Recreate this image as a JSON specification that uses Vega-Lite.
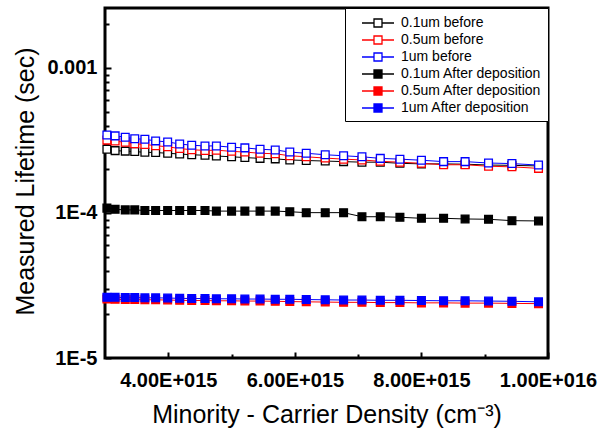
{
  "$schema": "https://vega.github.io/schema/vega-lite/v6.json",
  "width": 443,
  "height": 350,
  "autosize": {"type": "none"},
  "padding": {"left": 105, "top": 8, "right": 62, "bottom": 72},
  "background": "white",
  "config": {
    "view": {"stroke": "black", "strokeWidth": 3},
    "font": "Liberation Sans",
    "axis": {
      "domain": false, "grid": false, "tickColor": "black", "tickWidth": 2,
      "labelColor": "black", "titleColor": "black",
      "labelFont": "Liberation Sans", "titleFont": "Liberation Sans",
      "labelFontWeight": "bold", "labelFontSize": 20,
      "titleFontWeight": "normal", "titleFontSize": 24
    }
  },
  "data": {"values": [
    {"s":"0.1um before","x":3.03e15,"y":2.75e-4},{"s":"0.1um before","x":3.16e15,"y":2.69e-4},{"s":"0.1um before","x":3.32e15,"y":2.67e-4},{"s":"0.1um before","x":3.47e15,"y":2.65e-4},{"s":"0.1um before","x":3.63e15,"y":2.62e-4},{"s":"0.1um before","x":3.80e15,"y":2.61e-4},{"s":"0.1um before","x":3.99e15,"y":2.58e-4},{"s":"0.1um before","x":4.18e15,"y":2.55e-4},{"s":"0.1um before","x":4.37e15,"y":2.52e-4},{"s":"0.1um before","x":4.58e15,"y":2.50e-4},{"s":"0.1um before","x":4.76e15,"y":2.47e-4},{"s":"0.1um before","x":5.00e15,"y":2.44e-4},{"s":"0.1um before","x":5.21e15,"y":2.41e-4},{"s":"0.1um before","x":5.45e15,"y":2.38e-4},{"s":"0.1um before","x":5.69e15,"y":2.36e-4},{"s":"0.1um before","x":5.92e15,"y":2.32e-4},{"s":"0.1um before","x":6.18e15,"y":2.30e-4},{"s":"0.1um before","x":6.48e15,"y":2.28e-4},{"s":"0.1um before","x":6.77e15,"y":2.26e-4},{"s":"0.1um before","x":7.06e15,"y":2.24e-4},{"s":"0.1um before","x":7.35e15,"y":2.24e-4},{"s":"0.1um before","x":7.66e15,"y":2.20e-4},{"s":"0.1um before","x":8.00e15,"y":2.18e-4},{"s":"0.1um before","x":8.35e15,"y":2.18e-4},{"s":"0.1um before","x":8.69e15,"y":2.17e-4},{"s":"0.1um before","x":9.06e15,"y":2.14e-4},{"s":"0.1um before","x":9.43e15,"y":2.13e-4},{"s":"0.1um before","x":9.85e15,"y":2.11e-4},
    {"s":"0.5um before","x":3.03e15,"y":3.18e-4},{"s":"0.5um before","x":3.16e15,"y":3.13e-4},{"s":"0.5um before","x":3.32e15,"y":3.07e-4},{"s":"0.5um before","x":3.47e15,"y":3.00e-4},{"s":"0.5um before","x":3.63e15,"y":2.97e-4},{"s":"0.5um before","x":3.80e15,"y":2.91e-4},{"s":"0.5um before","x":3.99e15,"y":2.86e-4},{"s":"0.5um before","x":4.18e15,"y":2.78e-4},{"s":"0.5um before","x":4.37e15,"y":2.73e-4},{"s":"0.5um before","x":4.58e15,"y":2.70e-4},{"s":"0.5um before","x":4.76e15,"y":2.71e-4},{"s":"0.5um before","x":5.00e15,"y":2.66e-4},{"s":"0.5um before","x":5.21e15,"y":2.63e-4},{"s":"0.5um before","x":5.45e15,"y":2.58e-4},{"s":"0.5um before","x":5.69e15,"y":2.56e-4},{"s":"0.5um before","x":5.92e15,"y":2.48e-4},{"s":"0.5um before","x":6.18e15,"y":2.44e-4},{"s":"0.5um before","x":6.48e15,"y":2.39e-4},{"s":"0.5um before","x":6.77e15,"y":2.35e-4},{"s":"0.5um before","x":7.06e15,"y":2.32e-4},{"s":"0.5um before","x":7.35e15,"y":2.27e-4},{"s":"0.5um before","x":7.66e15,"y":2.24e-4},{"s":"0.5um before","x":8.00e15,"y":2.20e-4},{"s":"0.5um before","x":8.35e15,"y":2.15e-4},{"s":"0.5um before","x":8.69e15,"y":2.15e-4},{"s":"0.5um before","x":9.06e15,"y":2.10e-4},{"s":"0.5um before","x":9.43e15,"y":2.08e-4},{"s":"0.5um before","x":9.85e15,"y":2.03e-4},
    {"s":"1um before","x":3.03e15,"y":3.45e-4},{"s":"1um before","x":3.16e15,"y":3.40e-4},{"s":"1um before","x":3.32e15,"y":3.33e-4},{"s":"1um before","x":3.47e15,"y":3.25e-4},{"s":"1um before","x":3.63e15,"y":3.22e-4},{"s":"1um before","x":3.80e15,"y":3.14e-4},{"s":"1um before","x":3.99e15,"y":3.09e-4},{"s":"1um before","x":4.18e15,"y":2.99e-4},{"s":"1um before","x":4.37e15,"y":2.93e-4},{"s":"1um before","x":4.58e15,"y":2.90e-4},{"s":"1um before","x":4.76e15,"y":2.90e-4},{"s":"1um before","x":5.00e15,"y":2.84e-4},{"s":"1um before","x":5.21e15,"y":2.81e-4},{"s":"1um before","x":5.45e15,"y":2.75e-4},{"s":"1um before","x":5.69e15,"y":2.72e-4},{"s":"1um before","x":5.92e15,"y":2.63e-4},{"s":"1um before","x":6.18e15,"y":2.58e-4},{"s":"1um before","x":6.48e15,"y":2.52e-4},{"s":"1um before","x":6.77e15,"y":2.48e-4},{"s":"1um before","x":7.06e15,"y":2.44e-4},{"s":"1um before","x":7.35e15,"y":2.38e-4},{"s":"1um before","x":7.66e15,"y":2.35e-4},{"s":"1um before","x":8.00e15,"y":2.31e-4},{"s":"1um before","x":8.35e15,"y":2.26e-4},{"s":"1um before","x":8.69e15,"y":2.26e-4},{"s":"1um before","x":9.06e15,"y":2.21e-4},{"s":"1um before","x":9.43e15,"y":2.19e-4},{"s":"1um before","x":9.85e15,"y":2.14e-4},
    {"s":"0.1um After deposition","x":3.03e15,"y":1.08e-4},{"s":"0.1um After deposition","x":3.16e15,"y":1.06e-4},{"s":"0.1um After deposition","x":3.32e15,"y":1.05e-4},{"s":"0.1um After deposition","x":3.47e15,"y":1.05e-4},{"s":"0.1um After deposition","x":3.63e15,"y":1.04e-4},{"s":"0.1um After deposition","x":3.80e15,"y":1.04e-4},{"s":"0.1um After deposition","x":3.99e15,"y":1.04e-4},{"s":"0.1um After deposition","x":4.18e15,"y":1.04e-4},{"s":"0.1um After deposition","x":4.37e15,"y":1.04e-4},{"s":"0.1um After deposition","x":4.58e15,"y":1.04e-4},{"s":"0.1um After deposition","x":4.76e15,"y":1.03e-4},{"s":"0.1um After deposition","x":5.00e15,"y":1.03e-4},{"s":"0.1um After deposition","x":5.21e15,"y":1.03e-4},{"s":"0.1um After deposition","x":5.45e15,"y":1.03e-4},{"s":"0.1um After deposition","x":5.69e15,"y":1.03e-4},{"s":"0.1um After deposition","x":5.92e15,"y":1.02e-4},{"s":"0.1um After deposition","x":6.18e15,"y":1.005e-4},{"s":"0.1um After deposition","x":6.48e15,"y":1.005e-4},{"s":"0.1um After deposition","x":6.77e15,"y":1.005e-4},{"s":"0.1um After deposition","x":7.06e15,"y":9.42e-5},{"s":"0.1um After deposition","x":7.35e15,"y":9.42e-5},{"s":"0.1um After deposition","x":7.66e15,"y":9.34e-5},{"s":"0.1um After deposition","x":8.00e15,"y":9.19e-5},{"s":"0.1um After deposition","x":8.35e15,"y":9.19e-5},{"s":"0.1um After deposition","x":8.69e15,"y":9.09e-5},{"s":"0.1um After deposition","x":9.06e15,"y":9.05e-5},{"s":"0.1um After deposition","x":9.43e15,"y":8.85e-5},{"s":"0.1um After deposition","x":9.85e15,"y":8.81e-5},
    {"s":"0.5um After deposition","x":3.03e15,"y":2.55e-5},{"s":"0.5um After deposition","x":3.16e15,"y":2.54e-5},{"s":"0.5um After deposition","x":3.32e15,"y":2.53e-5},{"s":"0.5um After deposition","x":3.47e15,"y":2.53e-5},{"s":"0.5um After deposition","x":3.63e15,"y":2.52e-5},{"s":"0.5um After deposition","x":3.80e15,"y":2.52e-5},{"s":"0.5um After deposition","x":3.99e15,"y":2.51e-5},{"s":"0.5um After deposition","x":4.18e15,"y":2.50e-5},{"s":"0.5um After deposition","x":4.37e15,"y":2.49e-5},{"s":"0.5um After deposition","x":4.58e15,"y":2.49e-5},{"s":"0.5um After deposition","x":4.76e15,"y":2.48e-5},{"s":"0.5um After deposition","x":5.00e15,"y":2.48e-5},{"s":"0.5um After deposition","x":5.21e15,"y":2.47e-5},{"s":"0.5um After deposition","x":5.45e15,"y":2.47e-5},{"s":"0.5um After deposition","x":5.69e15,"y":2.46e-5},{"s":"0.5um After deposition","x":5.92e15,"y":2.45e-5},{"s":"0.5um After deposition","x":6.18e15,"y":2.44e-5},{"s":"0.5um After deposition","x":6.48e15,"y":2.43e-5},{"s":"0.5um After deposition","x":6.77e15,"y":2.42e-5},{"s":"0.5um After deposition","x":7.06e15,"y":2.42e-5},{"s":"0.5um After deposition","x":7.35e15,"y":2.41e-5},{"s":"0.5um After deposition","x":7.66e15,"y":2.41e-5},{"s":"0.5um After deposition","x":8.00e15,"y":2.40e-5},{"s":"0.5um After deposition","x":8.35e15,"y":2.40e-5},{"s":"0.5um After deposition","x":8.69e15,"y":2.39e-5},{"s":"0.5um After deposition","x":9.06e15,"y":2.39e-5},{"s":"0.5um After deposition","x":9.43e15,"y":2.38e-5},{"s":"0.5um After deposition","x":9.85e15,"y":2.37e-5},
    {"s":"1um After deposition","x":3.03e15,"y":2.62e-5},{"s":"1um After deposition","x":3.16e15,"y":2.62e-5},{"s":"1um After deposition","x":3.32e15,"y":2.61e-5},{"s":"1um After deposition","x":3.47e15,"y":2.61e-5},{"s":"1um After deposition","x":3.63e15,"y":2.60e-5},{"s":"1um After deposition","x":3.80e15,"y":2.60e-5},{"s":"1um After deposition","x":3.99e15,"y":2.59e-5},{"s":"1um After deposition","x":4.18e15,"y":2.58e-5},{"s":"1um After deposition","x":4.37e15,"y":2.57e-5},{"s":"1um After deposition","x":4.58e15,"y":2.57e-5},{"s":"1um After deposition","x":4.76e15,"y":2.56e-5},{"s":"1um After deposition","x":5.00e15,"y":2.56e-5},{"s":"1um After deposition","x":5.21e15,"y":2.55e-5},{"s":"1um After deposition","x":5.45e15,"y":2.55e-5},{"s":"1um After deposition","x":5.69e15,"y":2.54e-5},{"s":"1um After deposition","x":5.92e15,"y":2.54e-5},{"s":"1um After deposition","x":6.18e15,"y":2.53e-5},{"s":"1um After deposition","x":6.48e15,"y":2.52e-5},{"s":"1um After deposition","x":6.77e15,"y":2.51e-5},{"s":"1um After deposition","x":7.06e15,"y":2.51e-5},{"s":"1um After deposition","x":7.35e15,"y":2.50e-5},{"s":"1um After deposition","x":7.66e15,"y":2.50e-5},{"s":"1um After deposition","x":8.00e15,"y":2.49e-5},{"s":"1um After deposition","x":8.35e15,"y":2.48e-5},{"s":"1um After deposition","x":8.69e15,"y":2.48e-5},{"s":"1um After deposition","x":9.06e15,"y":2.47e-5},{"s":"1um After deposition","x":9.43e15,"y":2.46e-5},{"s":"1um After deposition","x":9.85e15,"y":2.44e-5}
  ]},
  "encoding": {
    "x": {
      "field": "x", "type": "quantitative",
      "title": "Minority - Carrier Density (cm⁻³)",
      "scale": {"domain": [3e15, 1e16], "nice": false, "zero": false},
      "axis": {
        "values": [4e15, 5e15, 6e15, 7e15, 8e15, 9e15, 1e16],
        "labelExpr": "datum.value == 4e15 ? '4.00E+015' : datum.value == 6e15 ? '6.00E+015' : datum.value == 8e15 ? '8.00E+015' : datum.value == 1e16 ? '1.00E+016' : ''",
        "tickSize": {"condition": {"test": "datum.value == 5e15 || datum.value == 7e15 || datum.value == 9e15", "value": -4}, "value": -6},
        "labelPadding": 18, "labelFlush": false, "labelOverlap": false,
        "titleY": 64, "titleBaseline": "alphabetic", "titleFontSize": 25
      }
    },
    "y": {
      "field": "y", "type": "quantitative",
      "title": "Measured Lifetime (sec)",
      "scale": {"type": "log", "domain": [1e-5, 0.00259], "nice": false},
      "axis": {
        "values": [0.00001, 0.00002, 0.00003, 0.00004, 0.00005, 0.00006, 0.00007, 0.00008, 0.00009, 0.0001, 0.0002, 0.0003, 0.0004, 0.0005, 0.0006, 0.0007, 0.0008, 0.0009, 0.001, 0.002],
        "labelExpr": "datum.value == 0.001 ? '0.001' : datum.value == 0.0001 ? '1E-4' : datum.value == 0.00001 ? '1E-5' : ''",
        "tickSize": {"condition": {"test": "datum.value == 0.001 || datum.value == 0.0001 || datum.value == 0.00001", "value": -6}, "value": -4},
        "labelPadding": 14, "labelOverlap": false, "labelFlush": false,
        "titleX": -80, "titleY": 173, "titleBaseline": "middle", "titleAlign": "center", "titleAngle": -90, "titleFontSize": 25
      }
    }
  },
  "layer": [
    {
      "mark": {"type": "line", "strokeWidth": 1},
      "encoding": {
        "stroke": {
          "field": "s", "type": "nominal",
          "scale": {"domain": ["0.1um before", "0.5um before", "1um before", "0.1um After deposition", "0.5um After deposition", "1um After deposition"], "range": ["#000000", "#ff0000", "#0000ff", "#000000", "#ff0000", "#0000ff"]},
          "legend": {"title": null, "orient": "top-right", "offset": 0, "strokeColor": "black", "fillColor": "white", "padding": 6, "labelFont": "Liberation Sans", "labelFontSize": 14, "labelColor": "black", "symbolType": "M-2,0H-0.5M0.5,0H2M-0.5,-0.5H0.5V0.5H-0.5Z", "symbolSize": 256, "symbolStrokeWidth": 1.3, "rowPadding": 1, "symbolOffset": 18, "labelOffset": 14}
        }
      }
    },
    {
      "mark": {"type": "point", "shape": "square", "size": 60, "strokeWidth": 1.3, "filled": true, "opacity": 1},
      "encoding": {
        "stroke": {
          "field": "s", "type": "nominal",
          "scale": {"domain": ["0.1um before", "0.5um before", "1um before", "0.1um After deposition", "0.5um After deposition", "1um After deposition"], "range": ["#000000", "#ff0000", "#0000ff", "#000000", "#ff0000", "#0000ff"]},
          "legend": {"title": null, "orient": "top-right", "offset": 0, "strokeColor": "black", "fillColor": "white", "padding": 6, "labelFont": "Liberation Sans", "labelFontSize": 14, "labelColor": "black", "symbolType": "M-2,0H-0.5M0.5,0H2M-0.5,-0.5H0.5V0.5H-0.5Z", "symbolSize": 256, "symbolStrokeWidth": 1.3, "rowPadding": 1, "symbolOffset": 18, "labelOffset": 14}
        },
        "fill": {
          "field": "s", "type": "nominal",
          "scale": {"domain": ["0.1um before", "0.5um before", "1um before", "0.1um After deposition", "0.5um After deposition", "1um After deposition"], "range": ["#ffffff", "#ffffff", "#ffffff", "#000000", "#ff0000", "#0000ff"]},
          "legend": {"title": null, "orient": "top-right", "offset": 0, "strokeColor": "black", "fillColor": "white", "padding": 6, "labelFont": "Liberation Sans", "labelFontSize": 14, "labelColor": "black", "symbolType": "M-2,0H-0.5M0.5,0H2M-0.5,-0.5H0.5V0.5H-0.5Z", "symbolSize": 256, "symbolStrokeWidth": 1.3, "rowPadding": 1, "symbolOffset": 18, "labelOffset": 14}
        }
      }
    }
  ]
}
